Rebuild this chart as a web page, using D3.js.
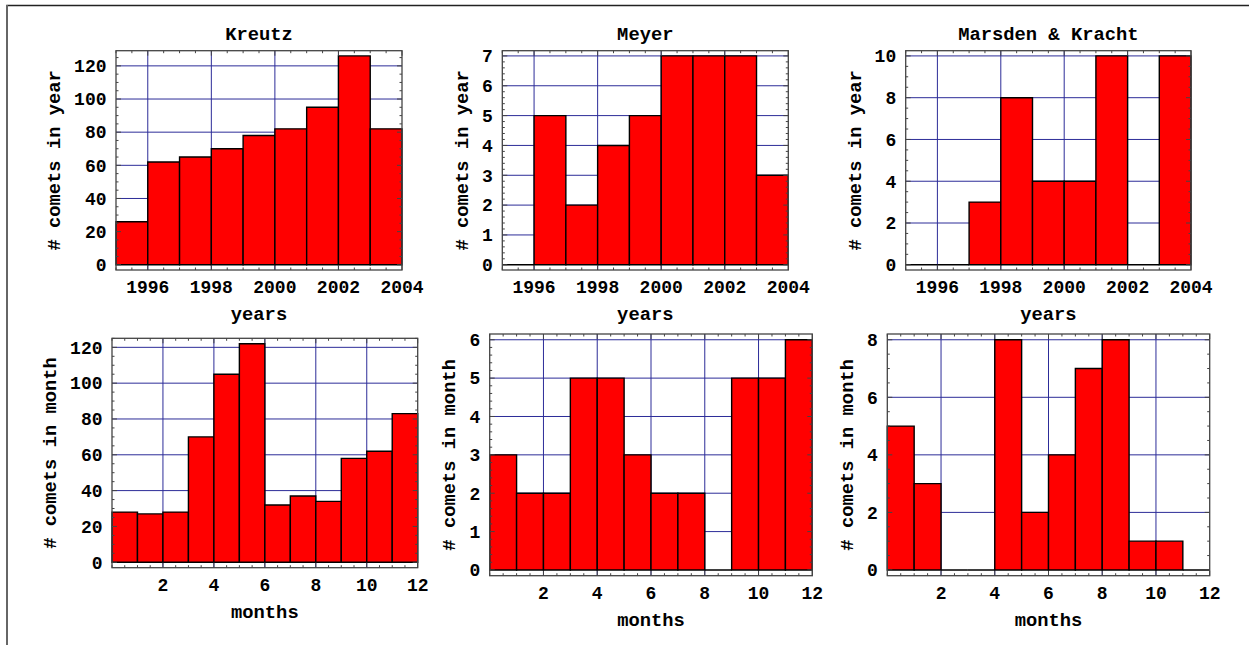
<!DOCTYPE html>
<html>
<head>
<meta charset="utf-8">
<script src="https://cdn.jsdelivr.net/npm/d3@7"></script>
<style>
  html, body { margin: 0; padding: 0; background: #fff; }
  svg { display: block; }
  text { font-family: "Liberation Mono", "Courier New", "DejaVu Sans Mono", monospace; font-weight: bold; font-size: 18px; fill: #000; }
  text.lab { font-size: 18.8px; }
</style>
</head>
<body>
<svg id="chart" width="1250" height="645"></svg>
<script>
// ---------- data ----------
const yearBins = [1995, 1996, 1997, 1998, 1999, 2000, 2001, 2002, 2003];
const yearTicks = [1996, 1998, 2000, 2002, 2004];
const monthBins = [0, 1, 2, 3, 4, 5, 6, 7, 8, 9, 10, 11];
const monthTicks = [2, 4, 6, 8, 10, 12];

const kreutzYear = [26, 62, 65, 70, 78, 82, 95, 126, 82];
const meyerYear = [0, 5, 2, 4, 5, 7, 7, 7, 3];
const marsdenYear = [0, 0, 3, 8, 4, 4, 10, 0, 10];

const kreutzMonth = [28, 27, 28, 70, 105, 122, 32, 37, 34, 58, 62, 83];
const meyerMonth = [3, 2, 2, 5, 5, 3, 2, 2, 0, 5, 5, 6];
const marsdenMonth = [5, 3, 0, 0, 8, 2, 4, 7, 8, 1, 1, 0];

const kreutzYearTicks = [0, 20, 40, 60, 80, 100, 120];
const meyerYearTicks = [0, 1, 2, 3, 4, 5, 6, 7];
const marsdenYearTicks = [0, 2, 4, 6, 8, 10];
const kreutzMonthTicks = [0, 20, 40, 60, 80, 100, 120];
const meyerMonthTicks = [0, 1, 2, 3, 4, 5, 6];
const marsdenMonthTicks = [0, 2, 4, 6, 8];

const titles = ["Kreutz", "Meyer", "Marsden & Kracht"];

// ---------- layout ----------
const frames = [
  [116, 50.7, 402, 270],
  [502.3, 50.7, 788.3, 270],
  [905.7, 50.7, 1191, 270],
  [112, 338.3, 417.7, 567.7],
  [489.7, 334, 812.3, 575.7],
  [887.3, 334, 1209.7, 575.7]
];

const panels = [
  { title: titles[0], bins: yearBins, vals: kreutzYear, xt: yearTicks, yt: kreutzYearTicks, xd: [1995, 2004], xm: 0.5, ym: 5, xl: "years", yl: "# comets in year" },
  { title: titles[1], bins: yearBins, vals: meyerYear, xt: yearTicks, yt: meyerYearTicks, xd: [1995, 2004], xm: 0.5, ym: 0.2, xl: "years", yl: "# comets in year" },
  { title: titles[2], bins: yearBins, vals: marsdenYear, xt: yearTicks, yt: marsdenYearTicks, xd: [1995, 2004], xm: 0.5, ym: 0.5, xl: "years", yl: "# comets in year" },
  { title: null, bins: monthBins, vals: kreutzMonth, xt: monthTicks, yt: kreutzMonthTicks, xd: [0, 12], xm: 0.5, ym: 5, xl: "months", yl: "# comets in month" },
  { title: null, bins: monthBins, vals: meyerMonth, xt: monthTicks, yt: meyerMonthTicks, xd: [0, 12], xm: 0.5, ym: 0.2, xl: "months", yl: "# comets in month" },
  { title: null, bins: monthBins, vals: marsdenMonth, xt: monthTicks, yt: marsdenMonthTicks, xd: [0, 12], xm: 0.5, ym: 0.5, xl: "months", yl: "# comets in month" }
];

const svg = d3.select("#chart");
svg.append("rect").attr("width", 1250).attr("height", 645).attr("fill", "#fff");

// outer border (top + left)
svg.append("path").attr("d", "M7,645 V5.5 H1249")
  .attr("fill", "none").attr("stroke", "#222").attr("stroke-width", 1.6);
svg.append("line").attr("x1", 7).attr("x2", 7).attr("y1", 5).attr("y2", 645)
  .attr("stroke", "#666").attr("stroke-width", 2);

const gridColor = "#2c2c98";

panels.forEach((p, i) => {
  const [x0, y0, x1, y1] = frames[i];
  const g = svg.append("g");
  const maxV = d3.max(p.vals);
  const x = d3.scaleLinear().domain(p.xd).range([x0, x1]);
  const y = d3.scaleLinear().domain([-0.025 * maxV, 1.025 * maxV]).range([y1, y0]);

  // gridlines
  g.append("g").selectAll("line").data(p.xt.filter(t => t > p.xd[0] && t < p.xd[1])).join("line")
    .attr("x1", d => x(d)).attr("x2", d => x(d)).attr("y1", y0).attr("y2", y1)
    .attr("stroke", gridColor).attr("stroke-width", 1);
  g.append("g").selectAll("line").data(p.yt.filter(t => t > 0)).join("line")
    .attr("x1", x0).attr("x2", x1).attr("y1", d => y(d)).attr("y2", d => y(d))
    .attr("stroke", gridColor).attr("stroke-width", 1);

  // bars (paths so zero-height bars still show their outline)
  g.append("g").selectAll("path").data(p.vals).join("path")
    .attr("d", (d, j) => {
      const a = x(p.bins[j]), b = x(p.bins[j] + 1), base = y(0), top = y(d);
      return `M${a},${base}V${top}H${b}V${base}Z`;
    })
    .attr("fill", "#ff0000").attr("stroke", "#000").attr("stroke-width", 1.4)
    .attr("stroke-linejoin", "miter");

  // frame
  g.append("rect").attr("x", x0).attr("y", y0).attr("width", x1 - x0).attr("height", y1 - y0)
    .attr("fill", "none").attr("stroke", "#444").attr("stroke-width", 1.3);

  // ticks (inward, all four sides)
  const xMinor = d3.range(p.xd[0], p.xd[1] + 1e-9, p.xm);
  const yMinor = d3.range(0, 1.025 * maxV + 1e-9, p.ym);
  const tk = g.append("g").attr("stroke", "#444").attr("stroke-width", 1);
  xMinor.forEach(v => {
    const major = p.xt.some(t => Math.abs(t - v) < 1e-6);
    const L = major ? 5 : 2.5;
    tk.append("line").attr("x1", x(v)).attr("x2", x(v)).attr("y1", y1).attr("y2", y1 - L);
    tk.append("line").attr("x1", x(v)).attr("x2", x(v)).attr("y1", y0).attr("y2", y0 + L);
  });
  yMinor.forEach(v => {
    const major = p.yt.some(t => Math.abs(t - v) < 1e-6);
    const L = major ? 5 : 2.5;
    tk.append("line").attr("y1", y(v)).attr("y2", y(v)).attr("x1", x0).attr("x2", x0 + L);
    tk.append("line").attr("y1", y(v)).attr("y2", y(v)).attr("x1", x1).attr("x2", x1 - L);
  });

  // x tick labels
  g.append("g").selectAll("text").data(p.xt).join("text")
    .attr("x", d => x(d)).attr("y", y1 + 17).attr("dy", "0.35em")
    .attr("text-anchor", "middle").text(d => d);

  // y tick labels
  const yl = g.append("g").selectAll("text").data(p.yt).join("text")
    .attr("x", x0 - 9.5).attr("y", d => y(d)).attr("dy", "0.35em")
    .attr("text-anchor", "end").text(d => d);
  let maxW = 0;
  yl.each(function () { maxW = Math.max(maxW, this.getComputedTextLength()); });

  // axis labels
  g.append("text").attr("class", "lab").attr("x", (x0 + x1) / 2).attr("y", y1 + 43.5).attr("dy", "0.35em")
    .attr("text-anchor", "middle").text(p.xl);
  const lx = x0 - 9.5 - maxW - 20.5;
  g.append("text").attr("class", "lab").attr("transform", `translate(${lx},${(y0 + y1) / 2}) rotate(-90)`)
    .attr("dy", "0.35em").attr("text-anchor", "middle").text(p.yl);

  if (p.title) {
    g.append("text").attr("class", "lab").attr("x", (x0 + x1) / 2).attr("y", y0 - 17.7).attr("dy", "0.35em")
      .attr("text-anchor", "middle").text(p.title);
  }
});
</script>
</body>
</html>
